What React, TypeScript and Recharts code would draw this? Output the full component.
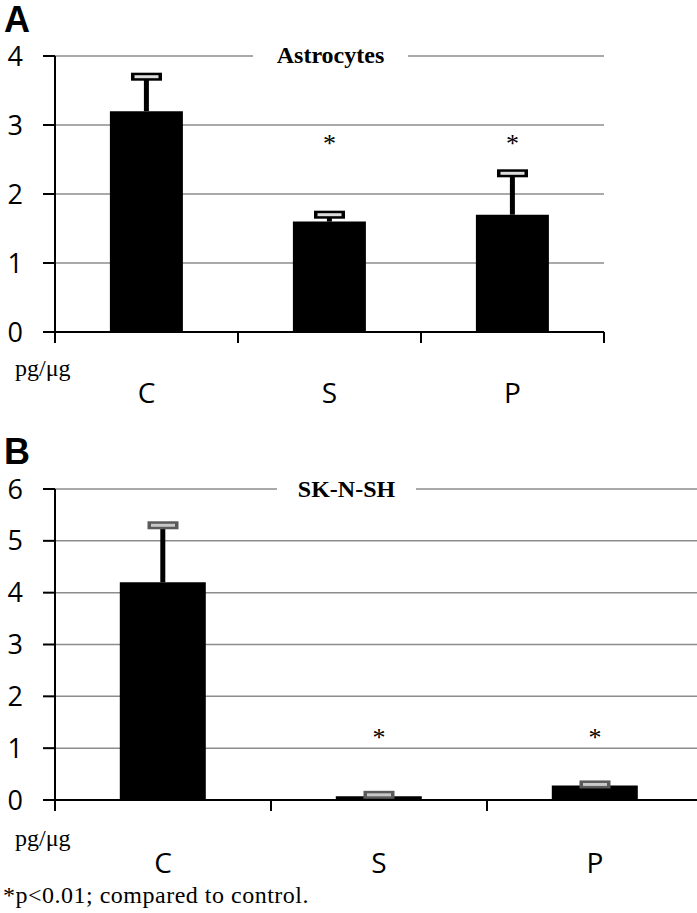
import { ComposedChart, Bar, ErrorBar, Scatter, XAxis, YAxis, CartesianGrid } from "recharts";

const categories = ["C", "S", "P"];

// panel A – astrocytes
const astroValues = [3.2, 1.6, 1.7];
const astroErrors = [0.5, 0.1, 0.6];
const astroStars = [null, 2.8, 2.8];
const astroTicks = [0, 1, 2, 3, 4];

// panel B – SK-N-SH
const skValues = [4.2, 0.07, 0.28];
const skErrors = [1.1, 0.03, 0.02];
const skStars = [null, 1.3, 1.3];
const skTicks = [0, 1, 2, 3, 4, 5, 6];

const SANS = "'Open Sans', 'Noto Sans', sans-serif";
const SERIF = "'Liberation Serif', 'DejaVu Serif', serif";

function buildRows(values: number[], errors: number[], stars: (number | null)[]) {
  return categories.map((cat, i) => ({
    cat,
    value: values[i],
    err: [0, errors[i]],
    top: values[i] + errors[i],
    star: stars[i],
  }));
}

function CatTick(props: any) {
  const { x, y, payload, index, labelDy } = props;
  const off = payload?.offset ?? 0;
  return (
    <g>
      {index === 0 && <line x1={x - off} x2={x - off} y1={y} y2={y + 11} stroke="#000" strokeWidth={2} />}
      <line x1={x + off} x2={x + off} y1={y} y2={y + 11} stroke="#000" strokeWidth={2} />
      <text x={x} y={y + labelDy} textAnchor="middle" dominantBaseline="central" fontFamily={SANS} fontSize={28} fill="#000">
        {payload.value}
      </text>
    </g>
  );
}

const capShape = (border: string, inner: string) => (p: any) => (
  <g>
    <rect x={p.cx - 15.5} y={p.cy - 4} width={31} height={8} fill={border} />
    <rect x={p.cx - 12} y={p.cy - 1.5} width={24} height={3} fill={inner} />
  </g>
);

const starShape = (p: any) =>
  p.payload?.star == null ? (
    <g />
  ) : (
    <text x={p.cx} y={p.cy + 13} textAnchor="middle" fontFamily={SERIF} fontSize={26} fill="#000">
      *
    </text>
  );

function Panel({ rows, ticks, width, height, margin, labelDy, capBorder, capInner }: any) {
  const max = ticks[ticks.length - 1];
  return (
    <ComposedChart width={width} height={height} data={rows} margin={margin} barCategoryGap="30%">
      <CartesianGrid horizontal vertical={false} stroke="#8c8c8c" strokeWidth={1.5} />
      <XAxis
        dataKey="cat"
        height={70}
        axisLine={{ stroke: "#000", strokeWidth: 2 }}
        tickLine={false}
        tickSize={0}
        tickMargin={0}
        interval={0}
        tick={(p: any) => <CatTick {...p} labelDy={labelDy} />}
      />
      <YAxis
        width={55}
        domain={[0, max]}
        ticks={ticks}
        interval={0}
        axisLine={{ stroke: "#000", strokeWidth: 2 }}
        tickLine={{ stroke: "#000", strokeWidth: 2 }}
        tickSize={12}
        tickMargin={20}
        tick={{ fill: "#000", fontSize: 27, fontFamily: SANS }}
      />
      <Bar dataKey="value" fill="#000" isAnimationActive={false}>
        <ErrorBar dataKey="err" direction="y" width={0} stroke="#000" strokeWidth={5} />
      </Bar>
      <Scatter dataKey="top" shape={capShape(capBorder, capInner)} isAnimationActive={false} legendType="none" />
      <Scatter dataKey="star" shape={starShape} isAnimationActive={false} legendType="none" />
    </ComposedChart>
  );
}

const abs = (s: any) => ({ position: "absolute" as const, ...s });

export default function App() {
  const astroRows = buildRows(astroValues, astroErrors, astroStars);
  const skRows = buildRows(skValues, skErrors, skStars);
  return (
    <div style={abs({ left: 0, top: 0, width: 697, height: 913, overflow: "hidden", background: "#fff" })}>
      <div style={abs({ left: 0, top: 20 })}>
        <Panel
          rows={astroRows}
          ticks={astroTicks}
          width={620}
          height={402}
          margin={{ top: 36, right: 16, bottom: 20, left: 0 }}
          labelDy={60}
          capBorder="#000"
          capInner="#dcdcdc"
        />
      </div>
      <div style={abs({ left: 0, top: 450 })}>
        <Panel
          rows={skRows}
          ticks={skTicks}
          width={720}
          height={440}
          margin={{ top: 39, right: 17, bottom: 20, left: 0 }}
          labelDy={62}
          capBorder="#5a5a5a"
          capInner="#c8c8c8"
        />
      </div>

      <div style={abs({ left: 4, top: 2, fontFamily: "'Liberation Sans', Arial, sans-serif", fontWeight: 700, fontSize: 36, lineHeight: "36px" })}>A</div>
      <div style={abs({ left: 4, top: 434, fontFamily: "'Liberation Sans', Arial, sans-serif", fontWeight: 700, fontSize: 36, lineHeight: "36px" })}>B</div>

      <div style={abs({ left: 253, top: 43, width: 155, height: 24, background: "#fff", textAlign: "center", fontFamily: SERIF, fontWeight: 700, fontSize: 24, lineHeight: "24px" })}>
        Astrocytes
      </div>
      <div style={abs({ left: 277, top: 477, width: 139, height: 24, background: "#fff", textAlign: "center", fontFamily: SERIF, fontWeight: 700, fontSize: 24, lineHeight: "24px" })}>
        SK-N-SH
      </div>

      <div style={abs({ left: 15, top: 356, fontFamily: SERIF, fontSize: 24, lineHeight: "24px" })}>pg/μg</div>
      <div style={abs({ left: 15, top: 826, fontFamily: SERIF, fontSize: 24, lineHeight: "24px" })}>pg/μg</div>

      <div style={abs({ left: 3, top: 883, fontFamily: SERIF, fontSize: 24, lineHeight: "24px", letterSpacing: 0.5, whiteSpace: "nowrap" })}>
        *p&lt;0.01; compared to control.
      </div>
    </div>
  );
}
